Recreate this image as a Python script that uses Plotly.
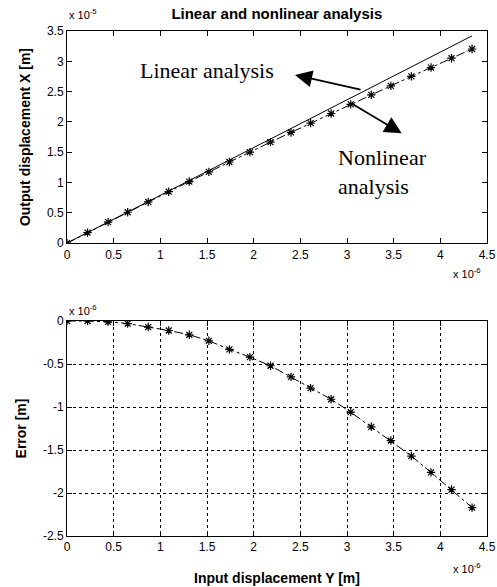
import plotly.graph_objects as go

# Input displacement Y, in units of 1e-6 m
input_y = [0, 0.22, 0.44, 0.65, 0.87, 1.09, 1.31, 1.52, 1.74, 1.96, 2.18,
           2.40, 2.61, 2.83, 3.04, 3.26, 3.47, 3.69, 3.90, 4.12, 4.34]
# Output displacement X, in units of 1e-5 m
linear_x = [0, 0.173, 0.347, 0.512, 0.686, 0.859, 1.032, 1.198, 1.371, 1.544, 1.718,
            1.891, 2.057, 2.230, 2.396, 2.569, 2.734, 2.908, 3.073, 3.247, 3.420]
nonlinear_x = [0, 0.173, 0.346, 0.509, 0.679, 0.848, 1.016, 1.175, 1.338, 1.502, 1.666,
               1.826, 1.979, 2.139, 2.290, 2.446, 2.595, 2.751, 2.897, 3.051, 3.203]
# Error, in units of 1e-6 m
error_vals = [0, 0, -0.01, -0.03, -0.07, -0.11, -0.16, -0.23, -0.33, -0.42, -0.52,
              -0.65, -0.78, -0.91, -1.06, -1.23, -1.39, -1.57, -1.76, -1.96, -2.17]

x_ticks = [0, 0.5, 1, 1.5, 2, 2.5, 3, 3.5, 4, 4.5]
x_tick_text = ["0", "0.5", "1", "1.5", "2", "2.5", "3", "3.5", "4", "4.5"]
y1_ticks = [0, 0.5, 1, 1.5, 2, 2.5, 3, 3.5]
y1_tick_text = ["0", "0.5", "1", "1.5", "2", "2.5", "3", "3.5"]
y2_ticks = [0, -0.5, -1, -1.5, -2, -2.5]
y2_tick_text = ["0", "-0.5", "-1", "-1.5", "-2", "-2.5"]

SANS = "Liberation Sans, Arial, sans-serif"
SERIF = "Liberation Serif, Times New Roman, serif"

fig = go.Figure()
fig.add_trace(go.Scatter(x=input_y, y=linear_x, mode="lines",
                         line=dict(color="black", width=1), xaxis="x", yaxis="y",
                         showlegend=False))
fig.add_trace(go.Scatter(x=input_y, y=nonlinear_x, mode="lines+markers",
                         line=dict(color="black", width=1, dash="dashdot"),
                         marker=dict(symbol="asterisk-open", size=7,
                                     line=dict(color="black", width=1.2)),
                         xaxis="x", yaxis="y", showlegend=False))
fig.add_trace(go.Scatter(x=input_y, y=error_vals, mode="lines+markers",
                         line=dict(color="black", width=1, dash="dashdot"),
                         marker=dict(symbol="asterisk-open", size=7,
                                     line=dict(color="black", width=1.2)),
                         xaxis="x2", yaxis="y2", showlegend=False))

axis_common = dict(showline=True, linecolor="black", linewidth=1, mirror="allticks",
                   ticks="inside", ticklen=5, tickcolor="black", zeroline=False,
                   automargin=False,
                   tickfont=dict(family=SANS, size=12, color="black"))

fig.update_layout(
    width=497, height=587,
    margin=dict(l=67, r=10, t=31, b=51),
    paper_bgcolor="white", plot_bgcolor="white",
    title=dict(text="<b>Linear and nonlinear analysis</b>", x=0.557, xanchor="center",
               y=0.976, yanchor="middle",
               font=dict(family=SANS, size=15, color="black")),
    xaxis=dict(domain=[0, 1], anchor="y", range=[0, 4.5], tickvals=x_ticks,
               ticktext=x_tick_text, showgrid=False, **axis_common),
    yaxis=dict(domain=[0.580, 1], anchor="x", range=[0, 3.5], tickvals=y1_ticks,
               ticktext=y1_tick_text, showgrid=False,
               title=dict(text="<b>Output displacement X [m]</b>", standoff=13,
                          font=dict(family=SANS, size=14, color="black")),
               **axis_common),
    xaxis2=dict(domain=[0, 1], anchor="y2", range=[0, 4.5], tickvals=x_ticks,
                ticktext=x_tick_text, showgrid=True, gridcolor="black",
                griddash="dot", gridwidth=1,
                title=dict(text="<b>Input displacement Y [m]</b>", standoff=19,
                           font=dict(family=SANS, size=14, color="black")),
                **axis_common),
    yaxis2=dict(domain=[0, 0.4257], anchor="x2", range=[-2.5, 0], tickvals=y2_ticks,
                ticktext=y2_tick_text, showgrid=True, gridcolor="black",
                griddash="dot", gridwidth=1,
                title=dict(text="<b>Error [m]</b>", standoff=13,
                           font=dict(family=SANS, size=14, color="black")),
                **axis_common),
)

exp_font = dict(family=SANS, size=11, color="black")
fig.add_annotation(text="x 10<sup>-5</sup>", xref="paper", yref="paper", x=0, y=1,
                   xanchor="left", yanchor="bottom", yshift=8, showarrow=False, font=exp_font)
fig.add_annotation(text="x 10<sup>-6</sup>", xref="paper", yref="paper", x=0.99, y=0.521,
                   xanchor="right", yanchor="middle", showarrow=False, font=exp_font)
fig.add_annotation(text="x 10<sup>-6</sup>", xref="paper", yref="paper", x=0, y=0.4257,
                   xanchor="left", yanchor="bottom", yshift=2, showarrow=False, font=exp_font)
fig.add_annotation(text="x 10<sup>-6</sup>", xref="paper", yref="paper", x=0.99, y=-0.063,
                   xanchor="right", yanchor="middle", showarrow=False, font=exp_font)

# Text labels and arrows
fig.add_annotation(text="Linear analysis", xref="x", yref="y", x=1.5, y=2.856,
                   showarrow=False, font=dict(family=SERIF, size=22, color="black"))
fig.add_annotation(text="Nonlinear<br>analysis", xref="x", yref="y", x=3.38, y=1.17,
                   showarrow=False, align="left",
                   font=dict(family=SERIF, size=22, color="black"))
fig.add_annotation(text="", xref="x", yref="y", x=2.443, y=2.774, ax=67, ay=15,
                   showarrow=True, arrowhead=2, arrowsize=1.9, arrowwidth=1.8,
                   arrowcolor="black")
fig.add_annotation(text="", xref="x", yref="y", x=3.586, y=1.811, ax=-52, ay=-31,
                   showarrow=True, arrowhead=2, arrowsize=1.9, arrowwidth=1.8,
                   arrowcolor="black")

fig.write_html("out.html", config={"displayModeBar": False},
               post_script="document.body.style.margin='0';document.body.style.padding='0';")
